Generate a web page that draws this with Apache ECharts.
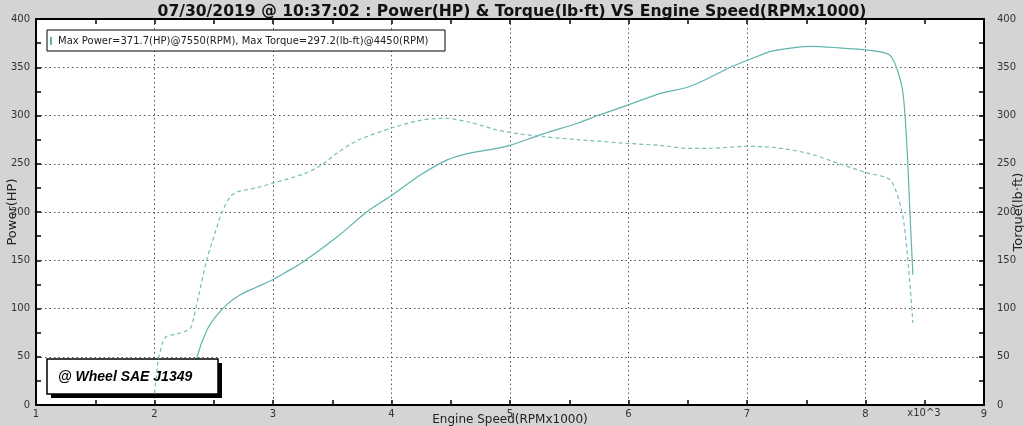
<!DOCTYPE html>
<html><head><meta charset="utf-8">
<script src="https://cdn.jsdelivr.net/npm/echarts@6/dist/echarts.min.js"></script>
<style>html,body{margin:0;padding:0;background:#d4d4d4}#c{width:1024px;height:426px}</style>
</head><body><div id="c"></div>
<script>
const titleText = '07/30/2019 @ 10:37:02 : Power(HP) & Torque(lb·ft) VS Engine Speed(RPMx1000)';
const legendText = 'Max Power=371.7(HP)@7550(RPM), Max Torque=297.2(lb-ft)@4450(RPM)';
const noteText = '@ Wheel SAE J1349';
const xName = 'Engine Speed(RPMx1000)';
const xUnitText = 'x10^3';
const yLeftName = 'Power(HP)';
const yRightName = 'Torque(lb·ft)';

const powerRpm = [2.33, 2.36, 2.44, 2.52, 2.61, 2.72, 2.86, 3.0, 3.1, 3.25, 3.54, 3.79, 4.0, 4.24, 4.47, 4.66, 4.89, 5.0, 5.28, 5.57, 5.74, 6.0, 6.27, 6.49, 6.63, 6.86, 7.0, 7.22, 7.55, 7.78, 8.0, 8.21, 8.31, 8.35, 8.375, 8.40];
const powerHp  = [25, 50, 77, 92, 104, 114, 122, 130, 137, 148, 174, 200, 217, 238, 254, 261, 266, 269, 281, 292, 300, 311, 323, 329, 336, 350, 357, 367, 371.7, 370, 368, 362, 328, 267, 199, 135];

const torqueRpm  = [2.0, 2.03, 2.07, 2.1, 2.2, 2.3, 2.33, 2.37, 2.44, 2.51, 2.57, 2.64, 2.7, 2.86, 3.0, 3.25, 3.4, 3.54, 3.71, 4.0, 4.24, 4.45, 4.66, 4.89, 5.08, 5.28, 5.57, 6.0, 6.27, 6.49, 6.69, 7.0, 7.22, 7.51, 7.78, 8.0, 8.21, 8.31, 8.36, 8.40];
const torqueLbft = [12, 45, 65, 71, 74, 79, 90, 112, 150, 178, 200, 216, 221, 225, 230, 239, 248, 261, 274, 287, 295, 297.2, 293, 285, 281, 278, 275, 271, 269, 266, 266, 268, 267, 261, 250, 241, 233, 199, 147, 85];

const xMin = 1, xMax = 9, xStep = 1;
const yMin = 0, yMax = 400, yStep = 50;

const powerData = powerRpm.map((r, i) => [r, powerHp[i]]);
const torqueData = torqueRpm.map((r, i) => [r, torqueLbft[i]]);

const chart = echarts.init(document.getElementById('c'), null, {renderer: 'canvas'});
const lblStyle = {color: '#333', fontSize: 10, fontFamily: 'DejaVu Sans'};
const axLine = {show: true, onZero: false, lineStyle: {color: '#000', width: 2}};
const tick = {show: true, inside: true, length: 5, lineStyle: {color: '#000', width: 1.5}};
const minor = {show: true, splitNumber: 2, length: 5, lineStyle: {color: '#000', width: 1.5}};
const dotted = {show: true, lineStyle: {color: '#555', width: 1, type: [1.5, 3]}};

chart.setOption({
  backgroundColor: '#d4d4d4',
  animation: false,
  title: {text: titleText, left: 'center', top: -1,
    textStyle: {fontFamily: 'DejaVu Sans', fontWeight: 'bold', fontSize: 15.6, color: '#111'}},
  grid: {left: 36, right: 40, top: 19, bottom: 21, show: true, backgroundColor: '#fff', borderWidth: 0,
    containLabel: false, outerBoundsMode: 'none'},
  xAxis: [{
    type: 'value', min: xMin, max: xMax, interval: xStep, position: 'bottom',
    name: xName, nameLocation: 'middle', nameGap: 15, nameMoveOverlap: false,
    nameTextStyle: {color: '#222', fontSize: 12, fontFamily: 'DejaVu Sans', verticalAlign: 'middle'},
    axisLine: axLine, axisTick: tick, minorTick: minor,
    axisLabel: Object.assign({margin: 4, showMinLabel: true, showMaxLabel: true}, lblStyle),
    splitLine: dotted
  }, {
    type: 'value', min: xMin, max: xMax, interval: xStep, position: 'top',
    axisLine: axLine, axisTick: tick, minorTick: minor,
    axisLabel: {show: false}, splitLine: {show: false}
  }],
  yAxis: [{
    type: 'value', min: yMin, max: yMax, interval: yStep, position: 'left',
    name: yLeftName, nameLocation: 'middle', nameGap: 17, nameRotate: 90, nameMoveOverlap: false,
    nameTextStyle: {color: '#222', fontSize: 13, fontFamily: 'DejaVu Sans'},
    axisLine: axLine, axisTick: tick, minorTick: minor,
    axisLabel: Object.assign({margin: 6}, lblStyle),
    splitLine: dotted
  }, {
    type: 'value', min: yMin, max: yMax, interval: yStep, position: 'right',
    name: yRightName, nameLocation: 'middle', nameGap: 28, nameRotate: 90, nameMoveOverlap: false,
    nameTextStyle: {color: '#222', fontSize: 13, fontFamily: 'DejaVu Sans'},
    axisLine: axLine, axisTick: tick, minorTick: minor,
    axisLabel: Object.assign({margin: 13}, lblStyle),
    splitLine: {show: false}
  }],
  series: [{
    name: 'Power', type: 'line', data: powerData, xAxisIndex: 0, yAxisIndex: 0,
    showSymbol: false, smooth: 0.25, z: 2,
    lineStyle: {color: '#5fb5ad', width: 1.2}
  }, {
    name: 'Torque', type: 'line', data: torqueData, xAxisIndex: 0, yAxisIndex: 1,
    showSymbol: false, smooth: 0.25, z: 10,
    lineStyle: {color: '#78bdb8', width: 1.2, type: [4, 3]}
  }],
  graphic: [
    {type: 'rect', z: 5, shape: {x: 47, y: 30, width: 398, height: 21}, style: {fill: '#fff', stroke: '#000', lineWidth: 1}},
    {type: 'rect', z: 6, shape: {x: 50, y: 37, width: 2, height: 8}, style: {fill: '#5fb5ad'}},
    {type: 'text', z: 6, x: 58, y: 41, style: {text: legendText, fill: '#222', font: '10px "DejaVu Sans"', verticalAlign: 'middle'}},
    {type: 'rect', z: 5, shape: {x: 51, y: 363, width: 171, height: 35}, style: {fill: '#000'}},
    {type: 'rect', z: 5, shape: {x: 47, y: 359, width: 171, height: 35}, style: {fill: '#fff', stroke: '#000', lineWidth: 1.5}},
    {type: 'text', z: 6, x: 58, y: 377, style: {text: noteText, fill: '#000', font: 'italic bold 14px "Liberation Sans"', verticalAlign: 'middle'}},
    {type: 'text', z: 6, x: 924, y: 413, style: {text: xUnitText, fill: '#333', font: '10px "DejaVu Sans"', align: 'center', verticalAlign: 'middle'}}
  ]
});
</script></body></html>
